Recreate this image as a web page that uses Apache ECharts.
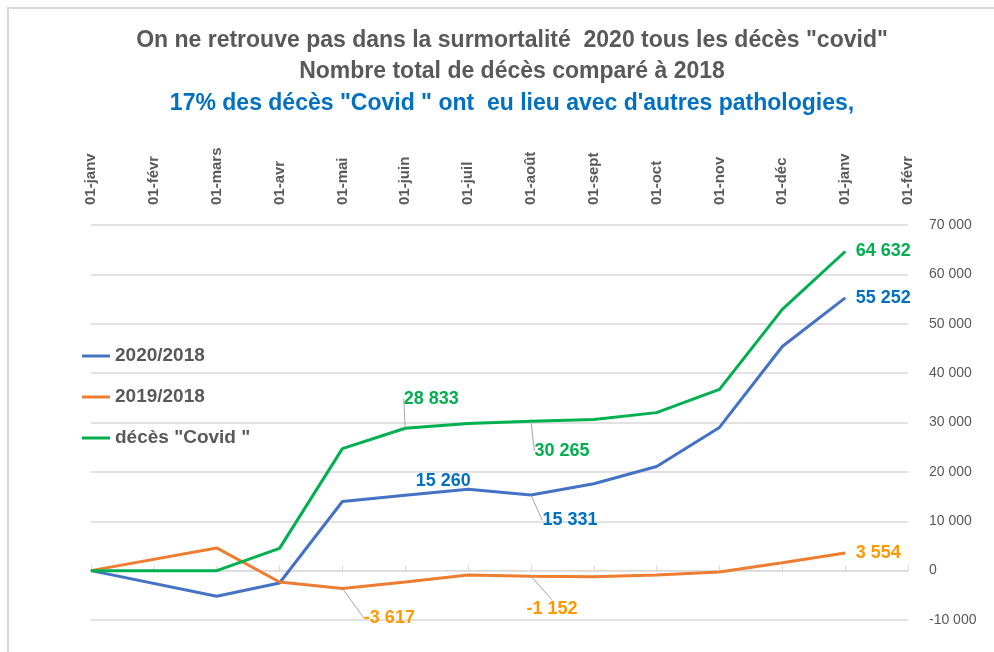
<!DOCTYPE html>
<html>
<head>
<meta charset="utf-8">
<script src="https://cdn.jsdelivr.net/npm/echarts@6/dist/echarts.min.js"></script>
<style>
  html, body { margin: 0; padding: 0; background: #fff; }
  #chart { width: 994px; height: 652px; }
</style>
</head>
<body>
<div id="chart"></div>
<script>
const months = ['01-janv', '01-févr', '01-mars', '01-avr', '01-mai', '01-juin', '01-juil',
  '01-août', '01-sept', '01-oct', '01-nov', '01-déc', '01-janv', '01-févr']
const exces2020 = [0, null, -5200, -2500, 14000, 15260, 16500, 15331, 17600, 21100, 29000, 45400, 55252, null]
const exces2019 = [0, null, 4600, -2300, -3617, -2300, -900, -1152, -1250, -900, -300, 1600, 3554, null]
const decesCovid = [0, null, 0, 4500, 24700, 28833, 29800, 30265, 30600, 32000, 36700, 52900, 64632, null]
const yTicks = [-10000, 0, 10000, 20000, 30000, 40000, 50000, 60000, 70000]
const titles = [
  'On ne retrouve pas dans la surmortalité  2020 tous les décès "covid"',
  'Nombre total de décès comparé à 2018',
  '17% des décès "Covid " ont  eu lieu avec d\'autres pathologies,'
]

const fmt = (v) => {
  const s = String(Math.abs(v)).replace(/\B(?=(\d{3})+(?!\d))/g, ' ')
  return v < 0 ? '-' + s : s
}

const labelFont = 'Liberation Sans'

// which points carry a data label, and where it is moved to
const labelled = {
  '2020/2018': { 5: { dx: 38, dy: 0, line: false }, 7: { dx: 39, dy: 40, line: true }, 12: { right: true } },
  '2019/2018': { 4: { dx: 47, dy: 44, line: true }, 7: { dx: 21, dy: 47, line: true }, 12: { right: true } },
  'décès "Covid "': { 5: { dx: 26, dy: -15, line: true }, 7: { dx: 31, dy: 44, line: true }, 12: { right: true } }
}

const buildData = (name, values, labelColor) => values.map((v, i) => {
  const spec = labelled[name][i]
  if (!spec) return v
  return {
    value: v,
    label: {
      show: true,
      position: spec.right ? 'right' : 'top',
      distance: spec.right ? 10 : 5,
      color: labelColor,
      fontFamily: labelFont,
      fontWeight: 'bold',
      fontSize: 18,
      formatter: (p) => fmt(p.value)
    },
    labelLine: { show: !!spec.line, lineStyle: { color: '#a6a6a6', width: 1 } }
  }
})

const makeSeries = (name, values, color, labelColor) => ({
  name: name,
  type: 'line',
  data: buildData(name, values, labelColor),
  connectNulls: true,
  symbol: 'circle',
  symbolSize: 1,
  showSymbol: true,
  lineStyle: { color: color, width: 3 },
  itemStyle: { color: color },
  labelLayout: (p) => {
    const spec = labelled[name][p.dataIndex]
    if (spec && !spec.right) return { dx: spec.dx, dy: spec.dy }
    return {}
  }
})

const chart = echarts.init(document.getElementById('chart'))

chart.setOption({
  backgroundColor: '#fff',
  animation: false,
  graphic: [
    {
      type: 'rect',
      shape: { x: 8, y: 8, width: 1000, height: 700 },
      style: { fill: 'none', stroke: '#d9d9d9', lineWidth: 2 },
      silent: true
    },
    ...titles.map((t, i) => ({
      type: 'text',
      x: 512,
      y: [41, 72, 104][i],
      style: {
        text: t,
        align: 'center',
        verticalAlign: 'middle',
        fill: i === 2 ? '#0070c0' : '#595959',
        font: 'bold 23px "Liberation Sans", sans-serif'
      },
      silent: true
    }))
  ],
  legend: {
    orient: 'vertical',
    left: 77,
    top: 341,
    icon: 'rect',
    itemWidth: 28,
    itemHeight: 3,
    itemGap: 21,
    data: ['2020/2018', '2019/2018', 'décès "Covid "'],
    textStyle: { color: '#595959', fontFamily: labelFont, fontWeight: 'bold', fontSize: 19, lineHeight: 20 }
  },
  grid: { left: 91, right: 86, top: 225, bottom: 32 },
  xAxis: {
    type: 'category',
    position: 'top',
    boundaryGap: false,
    data: months,
    axisLine: { lineStyle: { color: '#d9d9d9', width: 1 } },
    axisTick: { show: true, length: 5, lineStyle: { color: '#d9d9d9' } },
    axisLabel: {
      interval: 0,
      rotate: 90,
      margin: 20,
      color: '#595959',
      fontFamily: labelFont,
      fontWeight: 'bold',
      fontSize: 15
    },
    splitLine: { show: false }
  },
  yAxis: {
    type: 'value',
    position: 'right',
    min: yTicks[0],
    max: yTicks[yTicks.length - 1],
    interval: 10000,
    axisLine: { show: false },
    axisTick: { show: false },
    axisLabel: {
      margin: 21,
      align: 'left',
      color: '#595959',
      fontFamily: labelFont,
      fontSize: 14,
      formatter: (v) => fmt(v)
    },
    splitLine: { lineStyle: { color: '#d9d9d9', width: 1.5 } }
  },
  series: [
    makeSeries('2020/2018', exces2020, '#4472c4', '#0070c0'),
    makeSeries('2019/2018', exces2019, '#ed7d31', '#ff9900'),
    makeSeries('décès "Covid "', decesCovid, '#00b050', '#00b050')
  ]
})
</script>
</body>
</html>
